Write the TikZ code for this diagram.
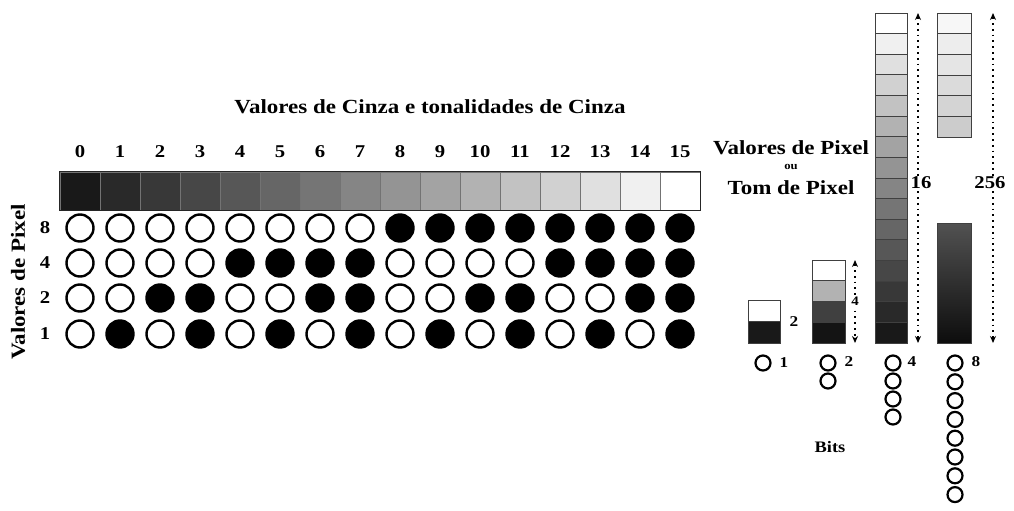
\documentclass[tikz,border=0pt]{standalone}
\usepackage{fontspec}
\setmainfont{Liberation Serif}[FakeStretch=1.15]
\usetikzlibrary{arrows.meta}
\begin{document}
\begin{tikzpicture}[x=1pt,y=-1pt,
  txt/.style={font=\bfseries\fontsize{18}{20}\selectfont, inner sep=0pt},
  bigtxt/.style={font=\bfseries\fontsize{20}{22}\selectfont, inner sep=0pt},
  smalltxt/.style={font=\bfseries\fontsize{15}{17}\selectfont, inner sep=0pt},
  barcell/.style={draw=black!55, line width=0.4pt, inner sep=0pt, minimum width=40pt, minimum height=38pt},
  vcell/.style={draw=black!75, line width=0.8pt, inner sep=0pt},
  bitc/.style={circle, draw=black, line width=2.4pt, minimum size=27pt, inner sep=0pt},
  smallbit/.style={circle, draw=black, line width=2.2pt, minimum size=15pt, inner sep=0pt},
  dotarrow/.style={dash pattern=on 1.8pt off 4pt, line width=2pt, {Stealth[length=7pt,width=6pt]}-{Stealth[length=7pt,width=6pt]}},
  arrlab/.style={fill=white, inner sep=1.5pt}
]
\useasboundingbox (0,0) rectangle (1014,511);

% title
\node[bigtxt] (title) at (430,107) {Valores de Cinza e tonalidades de Cinza};

% grey bar, numbers and circle grid
\foreach \i in {0,...,15} {
  \pgfmathtruncatemacro\w{10+6*\i}
  \node[barcell, fill=white!\w!black] (g\i) at (80+40*\i,191) {};
  \node[txt] (n\i) at (80+40*\i,152) {\i};
  \foreach \v/\y [count=\r] in {8/228,4/263,2/298,1/334} {
    \pgfmathtruncatemacro\b{mod(floor(\i/\v),2)}
    \ifnum\b=1
      \node[bitc, fill=black] (c\r-\i) at (80+40*\i,\y) {};
    \else
      \node[bitc, fill=white] (c\r-\i) at (80+40*\i,\y) {};
    \fi
  }
}
\draw[line width=1.3pt, black!85] (g0.north west) rectangle (g15.south east);

% row labels
\node[txt] (r8) at (45,228) {8};
\node[txt] (r4) at (45,263) {4};
\node[txt] (r2) at (45,298) {2};
\node[txt] (r1) at (45,334) {1};
\node[bigtxt, rotate=90] (vlab) at (18,282) {Valores de Pixel};

% right text
\node[bigtxt] (pv1) at (791,148) {Valores de Pixel};
\node[font=\bfseries\fontsize{11}{12}\selectfont, inner sep=0pt] (pv2) at (791,167) {ou};
\node[bigtxt] (pv3) at (791,188) {Tom de Pixel};

% 1-bit bar
\node[vcell, fill=white, minimum width=32pt, minimum height=21.5pt] (b2a) at (764,310.75) {};
\node[vcell, fill=black!90, minimum width=32pt, minimum height=21.5pt] (b2b) at (764,332.25) {};
\node[smalltxt] (l2) at (794,322) {2};

% 2-bit bar
\foreach \k/\c in {0/white, 1/black!30, 2/black!75, 3/black!92} {
  \node[vcell, fill=\c, minimum width=33pt, minimum height=20.75pt] (b4\k) at (828.5,270.4+20.75*\k) {};
}
\coordinate (a4t) at (855,260);
\coordinate (a4b) at (855,343);
\draw[dotarrow] (a4t) -- node[arrlab, font=\bfseries\fontsize{13}{14}\selectfont] (l4) {4} (a4b);

% 4-bit bar
\foreach \k in {0,...,15} {
  \pgfmathtruncatemacro\w{10+6*(15-\k)}
  \node[vcell, fill=white!\w!black, minimum width=32pt, minimum height=20.625pt] (b16\k) at (891,23.31+20.625*\k) {};
}
\coordinate (a16t) at (918,13);
\coordinate (a16b) at (918,343);
\draw[dotarrow] (a16t) -- node[arrlab, txt, pos=0.515, fill=white, inner sep=1pt, xshift=3pt] (l16) {16} (a16b);

% 8-bit bar
\foreach \k/\w in {0/97,1/93,2/90,3/86,4/83,5/80} {
  \node[vcell, fill=white!\w!black, minimum width=34pt, minimum height=20.67pt] (b256\k) at (954,23.33+20.67*\k) {};
}
\node[vcell, minimum width=34pt, minimum height=120pt, top color=black!68, bottom color=black!95] (b256d) at (954,283) {};
\coordinate (a256t) at (993,13);
\coordinate (a256b) at (993,343);
\draw[dotarrow] (a256t) -- node[arrlab, txt, pos=0.515, fill=white, inner sep=1pt, xshift=-3pt] (l256) {256} (a256b);

% bits
\node[smallbit] (s1a) at (763,363) {};
\node[smalltxt] (sl1) at (784,363) {1};
\node[smallbit] (s2a) at (828,363) {};
\node[smallbit] (s2b) at (828,381) {};
\node[smalltxt] (sl2) at (849,362) {2};
\foreach \k in {0,...,3} {
  \node[smallbit] (s4\k) at (893,363+18*\k) {};
}
\node[smalltxt] (sl4) at (912,362) {4};
\foreach \k in {0,...,7} {
  \node[smallbit] (s8\k) at (955,363+18.8*\k) {};
}
\node[smalltxt] (sl8) at (976,362) {8};
\node[font=\bfseries\fontsize{16}{18}\selectfont, inner sep=0pt] (bits) at (830,447) {Bits};
\end{tikzpicture}
\end{document}
